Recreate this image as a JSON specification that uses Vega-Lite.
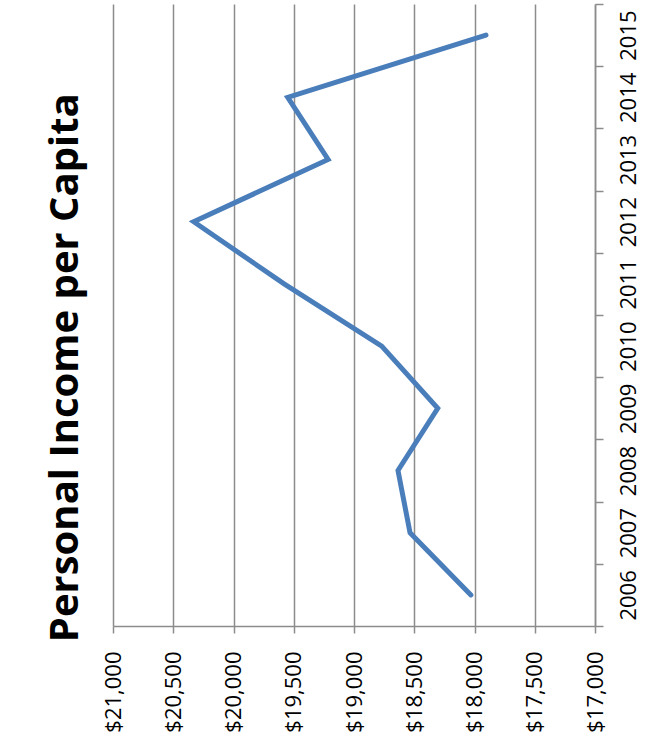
{
  "$schema": "https://vega.github.io/schema/vega-lite/v6.json",
  "width": 482,
  "height": 622,
  "autosize": "none",
  "padding": {"left": 113, "top": 4, "right": 69, "bottom": 122},
  "background": "white",
  "title": {
    "text": "Personal Income per Capita",
    "orient": "left",
    "anchor": "middle",
    "frame": "bounds",
    "font": "Open Sans",
    "fontSize": 40,
    "fontWeight": "bold",
    "color": "black",
    "offset": 16
  },
  "data": {
    "values": [
      {"year": 2006, "income": 18030},
      {"year": 2007, "income": 18535},
      {"year": 2008, "income": 18635},
      {"year": 2009, "income": 18305},
      {"year": 2010, "income": 18770},
      {"year": 2011, "income": 19580},
      {"year": 2012, "income": 20330},
      {"year": 2013, "income": 19215},
      {"year": 2014, "income": 19550},
      {"year": 2015, "income": 17905}
    ]
  },
  "mark": {
    "type": "line",
    "color": "#4A7EBB",
    "strokeWidth": 5,
    "strokeCap": "round",
    "strokeJoin": "miter"
  },
  "encoding": {
    "x": {
      "field": "income",
      "type": "quantitative",
      "scale": {"domain": [17000, 21000], "reverse": true, "nice": false, "zero": false},
      "axis": {
        "orient": "bottom",
        "title": null,
        "values": [17000, 17500, 18000, 18500, 19000, 19500, 20000, 20500, 21000],
        "format": "$,.0f",
        "labelAngle": -90,
        "labelAlign": "right",
        "labelBaseline": "middle",
        "labelFont": "Open Sans",
        "labelFontSize": 22,
        "labelColor": "black",
        "labelPadding": 18,
        "labelFlush": false,
        "labelOverlap": false,
        "tickSize": 7,
        "tickColor": "#8c8c8c",
        "tickWidth": 1.5,
        "domainColor": "#8c8c8c",
        "domainWidth": 1.5,
        "grid": true,
        "gridColor": "#8c8c8c",
        "gridWidth": 1.5
      }
    },
    "y": {
      "field": "year",
      "type": "ordinal",
      "sort": "descending",
      "scale": {"type": "band", "paddingInner": 0, "paddingOuter": 0},
      "axis": {
        "orient": "right",
        "title": null,
        "labelAngle": -90,
        "labelAlign": "center",
        "labelBaseline": "top",
        "labelFont": "Open Sans",
        "labelFontSize": 22,
        "labelColor": "black",
        "labelPadding": 15,
        "tickBand": "extent",
        "tickSize": 8,
        "tickColor": "#8c8c8c",
        "tickWidth": 1.5,
        "domainColor": "#8c8c8c",
        "domainWidth": 1.5,
        "grid": false
      }
    },
    "order": {"field": "year", "type": "quantitative"}
  },
  "config": {"view": {"stroke": null}}
}
